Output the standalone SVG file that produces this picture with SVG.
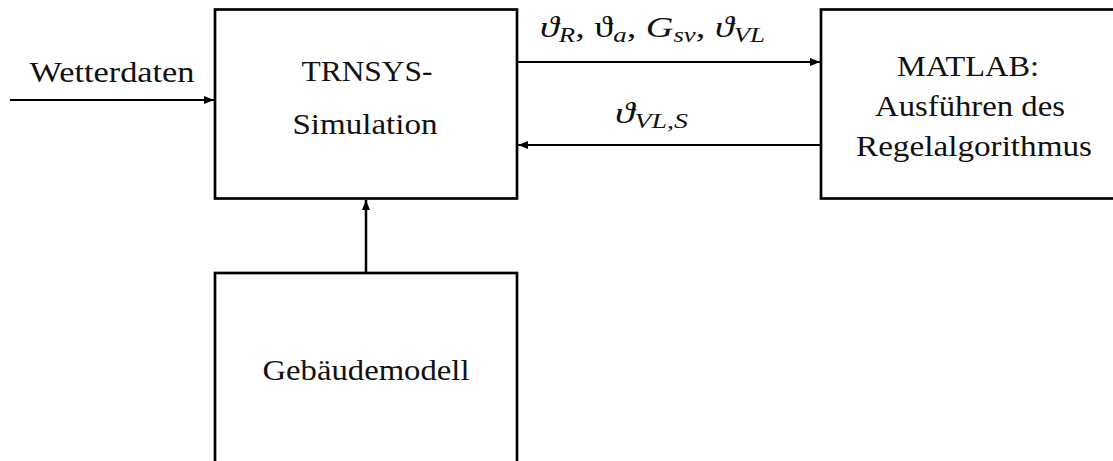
<svg xmlns="http://www.w3.org/2000/svg" width="1113" height="461" viewBox="0 0 1113 461">
<defs>
<style>
.box{fill:#fff;stroke:#000;stroke-width:2.7}
.con{stroke:#000;stroke-width:2;fill:none}
.t{font-family:"Liberation Serif","DejaVu Serif",serif;font-size:30px;fill:#111;text-anchor:middle}
.m{font-family:"Liberation Serif","DejaVu Serif",serif;font-size:30px;font-style:italic;fill:#111}
.s{font-size:21px}
.n{font-style:normal}
</style>
<marker id="ah" viewBox="0 0 10 8" refX="10" refY="4" markerWidth="10" markerHeight="8" markerUnits="userSpaceOnUse" orient="auto">
<path d="M0,0 L10,4 L0,8 Z" fill="#000"/>
</marker>
</defs>
<rect width="1113" height="461" fill="#fff"/>
<g id="connectors">
<line class="con" x1="10" y1="100" x2="214" y2="100" marker-end="url(#ah)"/>
<line class="con" x1="518" y1="62" x2="820" y2="62" marker-end="url(#ah)"/>
<line class="con" x1="820" y1="145" x2="518" y2="145" marker-end="url(#ah)"/>
<line class="con" x1="366" y1="272" x2="366" y2="200" marker-end="url(#ah)" style="stroke-width:2.5"/>
</g>
<g id="trnsys">
<rect class="box" x="215" y="9.5" width="302" height="189"/>
<text class="t" x="367" y="81" textLength="131" lengthAdjust="spacingAndGlyphs">TRNSYS-</text>
<text class="t" x="365" y="134" textLength="145" lengthAdjust="spacingAndGlyphs">Simulation</text>
</g>
<g id="matlab">
<rect class="box" x="821" y="9.5" width="300" height="189"/>
<text class="t" x="968" y="76" textLength="142" lengthAdjust="spacingAndGlyphs">MATLAB:</text>
<text class="t" x="970" y="116" textLength="190" lengthAdjust="spacingAndGlyphs">Ausführen des</text>
<text class="t" x="974" y="156" textLength="236" lengthAdjust="spacingAndGlyphs">Regelalgorithmus</text>
</g>
<g id="gebaeude">
<rect class="box" x="215" y="273" width="302" height="200"/>
<text class="t" x="366" y="380" textLength="207" lengthAdjust="spacingAndGlyphs">Gebäudemodell</text>
</g>
<g id="labels">
<text class="t" x="112" y="82" textLength="165" lengthAdjust="spacingAndGlyphs">Wetterdaten</text>
<text class="m" x="540" y="37" textLength="225" lengthAdjust="spacingAndGlyphs">ϑ<tspan class="s" dy="5">R</tspan><tspan class="n" dy="-5">, ϑ</tspan><tspan class="s" dy="5">a</tspan><tspan class="n" dy="-5">, </tspan>G<tspan class="s" dy="5">sv</tspan><tspan class="n" dy="-5">, </tspan>ϑ<tspan class="s" dy="5">VL</tspan></text>
<text class="m" x="615" y="123" textLength="73" lengthAdjust="spacingAndGlyphs">ϑ<tspan class="s" dy="5">VL,S</tspan></text>
</g>
</svg>
